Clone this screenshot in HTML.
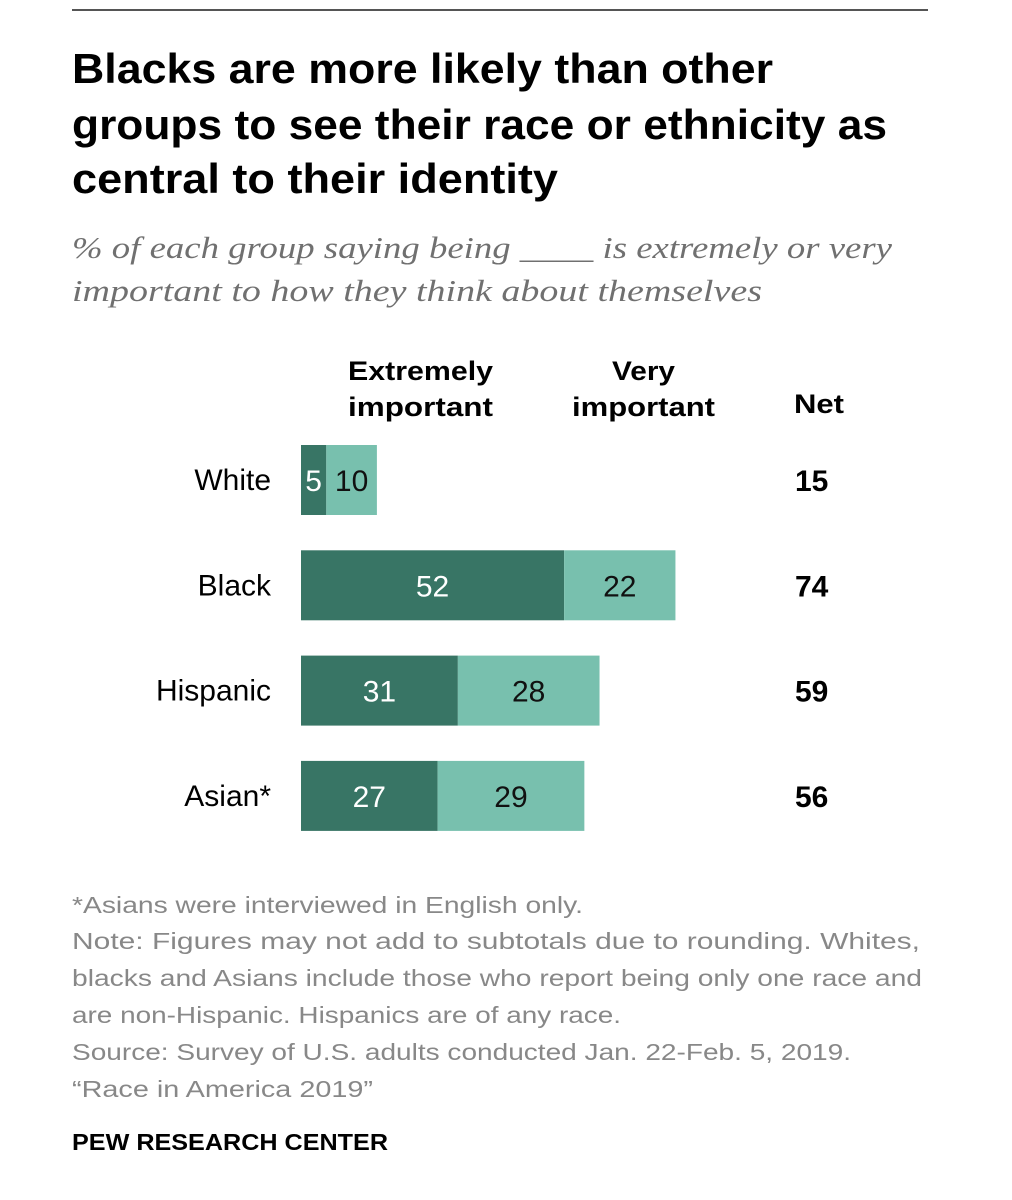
<!DOCTYPE html>
<html><head><meta charset="utf-8"><style>
html,body{margin:0;padding:0;background:#fff;}
svg{display:block;}
text{font-family:"Liberation Sans",sans-serif;}
</style></head><body>
<svg id="chart" width="1012" height="1200" viewBox="0 0 1012 1200">
<line x1="72" y1="10" x2="928" y2="10" stroke="#555" stroke-width="2"/>
<g font-weight="bold" font-size="42" fill="#000">
<text x="72" y="83" textLength="701" lengthAdjust="spacingAndGlyphs">Blacks are more likely than other</text>
<text x="72" y="139" textLength="815" lengthAdjust="spacingAndGlyphs">groups to see their race or ethnicity as</text>
<text x="72" y="193" textLength="486" lengthAdjust="spacingAndGlyphs">central to their identity</text>
</g>
<g font-size="31" fill="#707070" font-style="italic">
<text x="72" y="258" textLength="820" lengthAdjust="spacingAndGlyphs" style="font-family:'Liberation Serif',serif">% of each group saying being ____ is extremely or very</text>
<text x="72" y="301" textLength="690" lengthAdjust="spacingAndGlyphs" style="font-family:'Liberation Serif',serif">important to how they think about themselves</text>
</g>
<g font-weight="bold" font-size="27" fill="#000">
<text x="348" y="380" textLength="145" lengthAdjust="spacingAndGlyphs">Extremely</text>
<text x="348" y="416" textLength="145" lengthAdjust="spacingAndGlyphs">important</text>
<text x="612" y="380" textLength="63" lengthAdjust="spacingAndGlyphs">Very</text>
<text x="572" y="416" textLength="143" lengthAdjust="spacingAndGlyphs">important</text>
<text x="794" y="413" textLength="50" lengthAdjust="spacingAndGlyphs">Net</text>
</g>
<g id="bars"></g>
<g font-size="23" fill="#888">
<text x="72" y="913" textLength="511" lengthAdjust="spacingAndGlyphs">*Asians were interviewed in English only.</text>
<text x="72" y="949" textLength="848" lengthAdjust="spacingAndGlyphs">Note: Figures may not add to subtotals due to rounding. Whites,</text>
<text x="72" y="986" textLength="850" lengthAdjust="spacingAndGlyphs">blacks and Asians include those who report being only one race and</text>
<text x="72" y="1023" textLength="549" lengthAdjust="spacingAndGlyphs">are non-Hispanic. Hispanics are of any race.</text>
<text x="72" y="1060" textLength="779" lengthAdjust="spacingAndGlyphs">Source: Survey of U.S. adults conducted Jan. 22-Feb. 5, 2019.</text>
<text x="72" y="1097" textLength="301" lengthAdjust="spacingAndGlyphs">“Race in America 2019”</text>
</g>
<text x="72" y="1150" font-size="23" font-weight="bold" fill="#000" textLength="316" lengthAdjust="spacingAndGlyphs">PEW RESEARCH CENTER</text>
</svg>
<script>
const categories=["White","Black","Hispanic","Asian*"];
const extremely=[5,52,31,27];
const very=[10,22,28,29];
const net=[15,74,59,56];
const NS="http://www.w3.org/2000/svg";
const x0=301, pxPer=5.06, rowTop=445, rowStep=105.3, barH=70;
const xs=v=>v*pxPer;
const g=document.getElementById('bars');
function mk(tag,attrs,txt){const e=document.createElementNS(NS,tag);for(const k in attrs)e.setAttribute(k,attrs[k]);if(txt!==undefined)e.textContent=txt;g.appendChild(e);return e;}
categories.forEach((c,i)=>{
  const y=rowTop+i*rowStep, cy=y+barH/2;
  const lab=mk('text',{x:271,y:cy+10,'text-anchor':'end','font-size':30,fill:'#000'},c);
  
  
  const w1=xs(extremely[i]), w2=xs(very[i]);
  const r1=mk('rect',{x:x0,y:y,width:w1,height:barH,fill:'#387565'});
  
  
  const r2=mk('rect',{x:x0+w1,y:y,width:w2,height:barH,fill:'#78c0ae'});
  
  
  const t1=mk('text',{x:x0+w1/2,y:cy+11,'text-anchor':'middle','font-size':30,fill:'#fff'},extremely[i]);
  
  
  const t2=mk('text',{x:x0+w1+w2/2,y:cy+11,'text-anchor':'middle','font-size':30,fill:'#111'},very[i]);
  
  
  const t3=mk('text',{x:795,y:cy+11,'font-size':30,'font-weight':'bold',fill:'#000'},net[i]);
  
  
});
</script>
</body></html>
